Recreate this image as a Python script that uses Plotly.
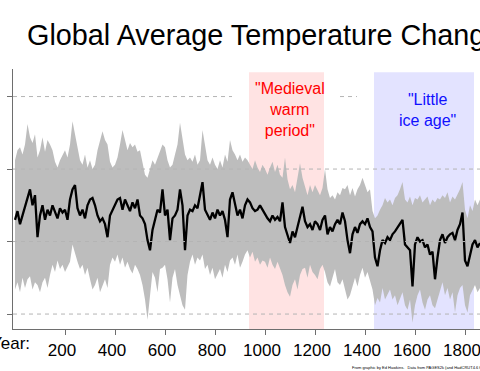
import plotly.graph_objects as go

# ---- data ----
years = list(range(0, 1870, 10))

upper = [
    0.06, 0.13, 0.15, 0.10, 0.17, 0.31, 0.22, 0.18, 0.24, 0.08,
    0.13, 0.22, 0.12, 0.20, 0.17, 0.13, 0.05, 0.01, 0.06, 0.10,
    0.13, 0.08, 0.17, 0.33, 0.24, 0.13, 0.06, 0.03, 0.10, 0.01,
    0.06, 0.00, 0.03, 0.13, 0.20, 0.26, 0.20, 0.17, 0.05, 0.01,
    0.03, 0.08, 0.17, 0.27, 0.20, 0.13, 0.18, 0.15, 0.17, 0.12,
    0.13, 0.03, -0.04, -0.06, 0.00, 0.06, 0.03, 0.08, 0.13, 0.17,
    0.15, 0.06, 0.01, 0.03, 0.10, 0.17, 0.32, 0.20, 0.10, 0.06,
    0.08, 0.05, 0.10, 0.03, 0.06, 0.27, 0.15, 0.06, 0.03, 0.08,
    0.03, 0.00, 0.06, 0.01, 0.10, 0.05, 0.20, 0.13, 0.10, 0.06,
    0.10, 0.05, 0.08, 0.06, 0.03, 0.00, 0.06, 0.01, -0.02, 0.03,
    0.00, -0.04, 0.01, 0.05, -0.02, 0.03, -0.04, -0.06, 0.08, -0.07,
    -0.14, -0.11, -0.16, -0.07, 0.04, -0.06, -0.13, -0.18, -0.11, -0.16,
    -0.11, -0.14, -0.18, -0.13, 0.00, -0.14, -0.20, -0.18, -0.21, -0.16,
    -0.18, -0.13, -0.14, -0.11, -0.18, -0.13, -0.19, -0.14, -0.11, -0.06,
    -0.11, -0.16, -0.14, -0.29, -0.34, -0.32, -0.28, -0.25, -0.20, -0.23,
    -0.21, -0.25, -0.20, -0.18, -0.14, -0.09, -0.21, -0.23, -0.19, -0.25,
    -0.20, -0.21, -0.18, -0.23, -0.21, -0.19, -0.25, -0.21, -0.23, -0.20,
    -0.21, -0.18, -0.20, -0.16, -0.23, -0.19, -0.21, -0.18, -0.14, -0.09,
    -0.28, -0.34, -0.25, -0.29, -0.21, -0.25, -0.21,
]

mean = [
    -0.35, -0.29, -0.38, -0.32, -0.27, -0.20, -0.14, -0.25, -0.18, -0.47,
    -0.32, -0.25, -0.35, -0.28, -0.32, -0.25, -0.29, -0.34, -0.27, -0.30,
    -0.28, -0.35, -0.21, -0.14, -0.11, -0.27, -0.32, -0.28, -0.34, -0.25,
    -0.21, -0.20, -0.25, -0.32, -0.36, -0.34, -0.38, -0.47, -0.32, -0.28,
    -0.25, -0.21, -0.20, -0.28, -0.21, -0.25, -0.29, -0.23, -0.27, -0.21,
    -0.32, -0.34, -0.38, -0.49, -0.56, -0.42, -0.34, -0.28, -0.30, -0.14,
    -0.32, -0.28, -0.49, -0.34, -0.32, -0.28, -0.14, -0.25, -0.56, -0.32,
    -0.28, -0.29, -0.25, -0.27, -0.18, -0.09, -0.28, -0.32, -0.35, -0.30,
    -0.34, -0.28, -0.32, -0.29, -0.35, -0.47, -0.21, -0.16, -0.25, -0.32,
    -0.28, -0.34, -0.25, -0.21, -0.23, -0.27, -0.29, -0.28, -0.25, -0.28,
    -0.32, -0.34, -0.36, -0.32, -0.35, -0.33, -0.36, -0.23, -0.40, -0.45,
    -0.51, -0.43, -0.47, -0.40, -0.32, -0.26, -0.36, -0.40, -0.38, -0.42,
    -0.36, -0.38, -0.42, -0.35, -0.32, -0.45, -0.40, -0.43, -0.38, -0.35,
    -0.38, -0.30, -0.36, -0.49, -0.58, -0.45, -0.40, -0.44, -0.38, -0.36,
    -0.38, -0.34, -0.40, -0.43, -0.61, -0.67, -0.56, -0.49, -0.51, -0.47,
    -0.49, -0.45, -0.43, -0.40, -0.38, -0.35, -0.52, -0.54, -0.56, -0.81,
    -0.52, -0.47, -0.50, -0.49, -0.54, -0.52, -0.59, -0.57, -0.76, -0.61,
    -0.49, -0.45, -0.51, -0.47, -0.45, -0.44, -0.49, -0.42, -0.38, -0.30,
    -0.63, -0.67, -0.59, -0.52, -0.49, -0.54, -0.51,
]

lower = [
    -0.83, -0.78, -0.85, -0.75, -0.82, -0.76, -0.74, -0.83, -0.78, -0.80,
    -0.85, -0.78, -0.75, -0.82, -0.73, -0.66, -0.71, -0.63, -0.69, -0.66,
    -0.71, -0.68, -0.64, -0.52, -0.59, -0.64, -0.69, -0.66, -0.73, -0.68,
    -0.76, -0.83, -0.80, -0.75, -0.85, -0.80, -0.76, -0.82, -0.66, -0.61,
    -0.64, -0.59, -0.66, -0.61, -0.68, -0.64, -0.69, -0.72, -0.66, -0.69,
    -0.73, -0.80, -0.90, -1.04, -0.89, -0.71, -0.75, -0.85, -0.69, -0.68,
    -0.66, -0.76, -0.92, -0.75, -0.69, -0.80, -0.87, -0.94, -0.97, -0.73,
    -0.64, -0.59, -0.66, -0.61, -0.63, -0.59, -0.69, -0.66, -0.73, -0.68,
    -0.76, -0.73, -0.69, -0.75, -0.66, -0.71, -0.63, -0.61, -0.66, -0.59,
    -0.68, -0.64, -0.59, -0.56, -0.61, -0.57, -0.64, -0.61, -0.66, -0.63,
    -0.64, -0.68, -0.61, -0.66, -0.69, -0.64, -0.68, -0.73, -0.80, -0.85,
    -0.88, -0.80, -0.76, -0.83, -0.73, -0.69, -0.68, -0.75, -0.66, -0.71,
    -0.73, -0.76, -0.69, -0.66, -0.71, -0.78, -0.81, -0.75, -0.69, -0.78,
    -0.80, -0.76, -0.83, -0.90, -0.87, -0.80, -0.75, -0.81, -0.73, -0.68,
    -0.75, -0.71, -0.78, -0.83, -0.94, -0.89, -0.92, -0.82, -0.90, -0.87,
    -0.83, -0.90, -0.87, -0.94, -0.89, -0.85, -0.94, -0.97, -0.90, -1.06,
    -0.94, -0.87, -0.83, -0.92, -0.97, -0.90, -0.87, -0.94, -0.96, -0.90,
    -0.83, -0.78, -0.87, -0.82, -0.90, -0.85, -0.99, -0.87, -0.82, -0.80,
    -0.94, -0.99, -0.87, -0.83, -0.80, -0.85, -0.82,
]

x_ticks = [200, 400, 600, 800, 1000, 1200, 1400, 1600, 1800]
y_ticks = [-1.0, -0.5, 0.0, 0.5]

periods = ["\"Medieval<br>warm<br>period\"", "\"Little<br>ice age\""]
period_start = [936, 1436]
period_end = [1236, 1836]
period_label_year = [1100, 1648]

title_text = "Global Average Temperature Change"
x_label = "Year:"
credit = "From graphic by Ed Hawkins.   Data from PAGES2k (and HadCRUT4.6 for 2000\u20132018)"

# ---- styling ----
FONT = "Liberation Sans, Arial, sans-serif"
X_RANGE = [-8, 1860]
Y_RANGE = [-1.103, 0.690]
REGION_TOP = 0.667
region_fill = ["#ffe3e3", "#e3e3ff"]
label_color = ["#ff0000", "#1010ff"]
label_y = [0.41, 0.405]
GRID_COLOR = "#b4b4b4"
AXIS_COLOR = "#6e6e6e"

fig = go.Figure()

fig.add_trace(go.Scatter(x=years, y=lower, mode="lines", line=dict(width=0, color="#bdbdbd"),
                         showlegend=False, hoverinfo="skip"))
fig.add_trace(go.Scatter(x=years, y=upper, mode="lines", line=dict(width=0, color="#bdbdbd"),
                         fill="tonexty", fillcolor="#bdbdbd", showlegend=False, hoverinfo="skip"))
fig.add_trace(go.Scatter(x=years, y=mean, mode="lines", line=dict(width=2.3, color="#000000"),
                         showlegend=False))

shapes = []
for s, e, c in zip(period_start, period_end, region_fill):
    shapes.append(dict(type="rect", xref="x", yref="y", x0=s, x1=e, y0=Y_RANGE[0], y1=REGION_TOP,
                       fillcolor=c, line=dict(width=0), layer="below"))

# dashed grid lines
for v in y_ticks[:-1]:
    shapes.append(dict(type="line", xref="paper", yref="y", x0=0, x1=1, y0=v, y1=v,
                       line=dict(color=GRID_COLOR, width=1, dash="4px,4px"), layer="above"))
# top grid line is interrupted by the labels
for a, b in [(X_RANGE[0], 868), (1300, 1368)]:
    shapes.append(dict(type="line", xref="x", yref="y", x0=a, x1=b, y0=0.5, y1=0.5,
                       line=dict(color=GRID_COLOR, width=1, dash="4px,4px"), layer="above"))

annotations = []
for txt, xl, yl, c in zip(periods, period_label_year, label_y, label_color):
    annotations.append(dict(text=txt, x=xl, y=yl, xref="x", yref="y",
                            showarrow=False, font=dict(family=FONT, size=16, color=c),
                            align="center", xanchor="center", yanchor="middle"))
annotations.append(dict(text=x_label, xref="paper", yref="paper", x=0.041, y=-0.056,
                        xanchor="right", yanchor="middle", showarrow=False,
                        font=dict(family=FONT, size=17, color="#000000")))
annotations.append(dict(text=credit, xref="paper", yref="paper", x=0.722, y=-0.149,
                        xanchor="left", yanchor="middle", showarrow=False,
                        font=dict(family=FONT, size=4, color="#000000")))
annotations.append(dict(text=title_text, xref="paper", yref="paper", x=(24.5 - 13) / 467, y=1.13,
                        xanchor="left", yanchor="middle", showarrow=False,
                        font=dict(family=FONT, size=28.8, color="#000000")))

fig.update_layout(
    width=480, height=371,
    margin=dict(l=13, r=0, t=69, b=42, pad=0),
    paper_bgcolor="white", plot_bgcolor="white",
    shapes=shapes, annotations=annotations,
    showlegend=False,
    font=dict(family=FONT, color="#000000"),
)
fig.update_xaxes(range=X_RANGE, showgrid=False, zeroline=False,
                 showline=True, linecolor=AXIS_COLOR, linewidth=1.3,
                 tickmode="array", tickvals=x_ticks, ticktext=[str(t) for t in x_ticks],
                 ticks="outside", ticklen=5, tickcolor=AXIS_COLOR, tickwidth=1,
                 tickfont=dict(family=FONT, size=17, color="#000000"), ticklabelshift=-3,
                 ticklabeloverflow="allow")
fig.update_yaxes(range=Y_RANGE, showgrid=False, zeroline=False,
                 showline=True, linecolor=AXIS_COLOR, linewidth=1.3,
                 tickmode="array", tickvals=y_ticks, showticklabels=False,
                 ticks="outside", ticklen=5, tickcolor=AXIS_COLOR, tickwidth=1)

fig.write_html("out.html", config={"displayModeBar": False},
               post_script="document.body.style.margin='0';")
